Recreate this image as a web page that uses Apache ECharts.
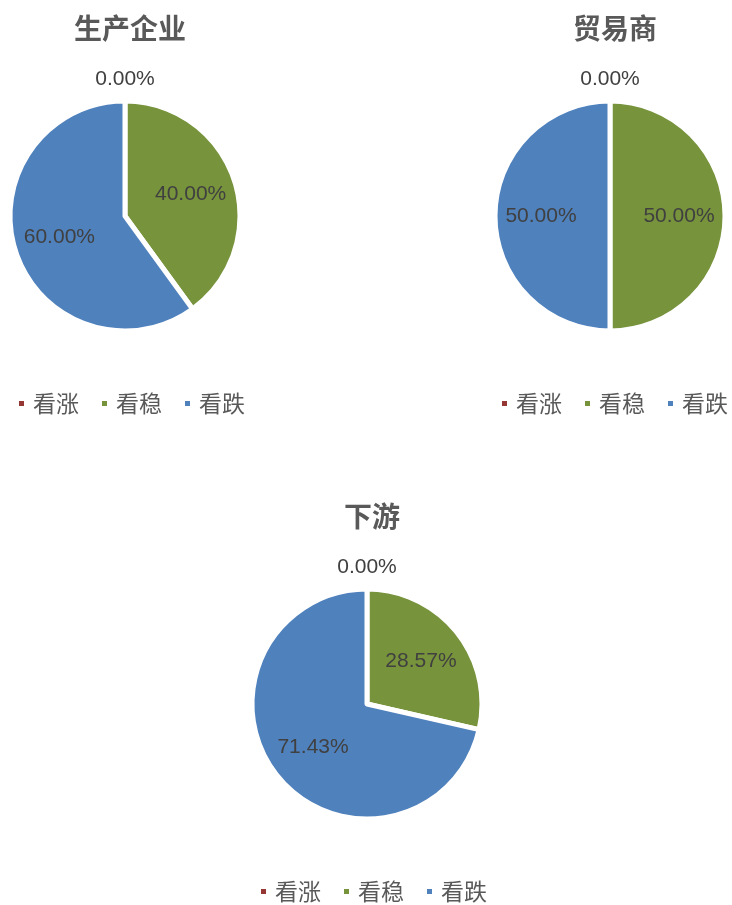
<!DOCTYPE html>
<html><head><meta charset="utf-8">
<script src="https://cdn.jsdelivr.net/npm/echarts@6/dist/echarts.min.js"></script>
<style>html,body{margin:0;padding:0;background:#fff}#c{width:732px;height:905px}</style>
</head><body><div id="c"></div>
<script>
// ---- data ----
const categories = ['看涨', '看稳', '看跌'];
const chartTitles = ['生产企业', '贸易商', '下游'];
const producerValues = [0, 40.00, 60.00];
const traderValues = [0, 50.00, 50.00];
const downstreamValues = [0, 28.57, 71.43];

// ---- style / layout ----
const colors = ['#953735', '#77933C', '#4F81BD'];
const layouts = [
  { cx: 125, cy: 216, titleTop: 9, legendLeft: 17, legendTop: 392 },
  { cx: 610, cy: 216, titleTop: 9, legendLeft: 500, legendTop: 392 },
  { cx: 367, cy: 704, titleTop: 497, legendLeft: 259, legendTop: 880 }
];
const RADIUS = 115, BORDER = 5, LABEL_R = 69, ZERO_LABEL_R = 137;
const allValues = [producerValues, traderValues, downstreamValues];

function makeLabelLayout(values, lay) {
  const total = values.reduce((a, b) => a + b, 0);
  return function (p) {
    let before = 0;
    for (let i = 0; i < p.dataIndex; i++) before += values[i];
    const v = values[p.dataIndex];
    const mid = (before + v / 2) / total * 2 * Math.PI;
    const R = v === 0 ? ZERO_LABEL_R : LABEL_R;
    return { x: lay.cx + R * Math.sin(mid), y: lay.cy - R * Math.cos(mid), align: 'center', verticalAlign: 'middle' };
  };
}

const chart = echarts.init(document.getElementById('c'), null, { renderer: 'canvas' });
const option = {
  animation: false,
  color: colors,
  title: chartTitles.map((t, i) => ({
    text: t, left: layouts[i].cx, top: layouts[i].titleTop, textAlign: 'center',
    textStyle: { fontFamily: 'Noto Sans CJK SC', fontWeight: 'bold', fontSize: 28, color: '#595959' }
  })),
  legend: layouts.map(l => ({
    data: categories, left: l.legendLeft, top: l.legendTop, orient: 'horizontal', padding: 0,
    icon: 'rect', itemWidth: 7, itemHeight: 7, itemGap: 21,
    textStyle: { fontFamily: 'Noto Sans CJK SC', fontSize: 23, color: '#595959', padding: [0, 0, 0, 3] }
  })),
  series: allValues.map((vals, i) => ({
    type: 'pie',
    center: [layouts[i].cx, layouts[i].cy],
    radius: RADIUS,
    startAngle: 90,
    clockwise: true,
    avoidLabelOverlap: false,
    itemStyle: { borderColor: '#ffffff', borderWidth: BORDER },
    label: {
      show: true, position: 'inside',
      formatter: p => vals[p.dataIndex].toFixed(2) + '%',
      fontFamily: 'Liberation Sans', fontSize: 21, color: '#404040'
    },
    labelLine: { show: false },
    labelLayout: makeLabelLayout(vals, layouts[i]),
    emphasis: { disabled: true },
    data: categories.map((c, k) => ({ name: c, value: vals[k] }))
  }))
};
chart.setOption(option);
</script>
</body></html>
